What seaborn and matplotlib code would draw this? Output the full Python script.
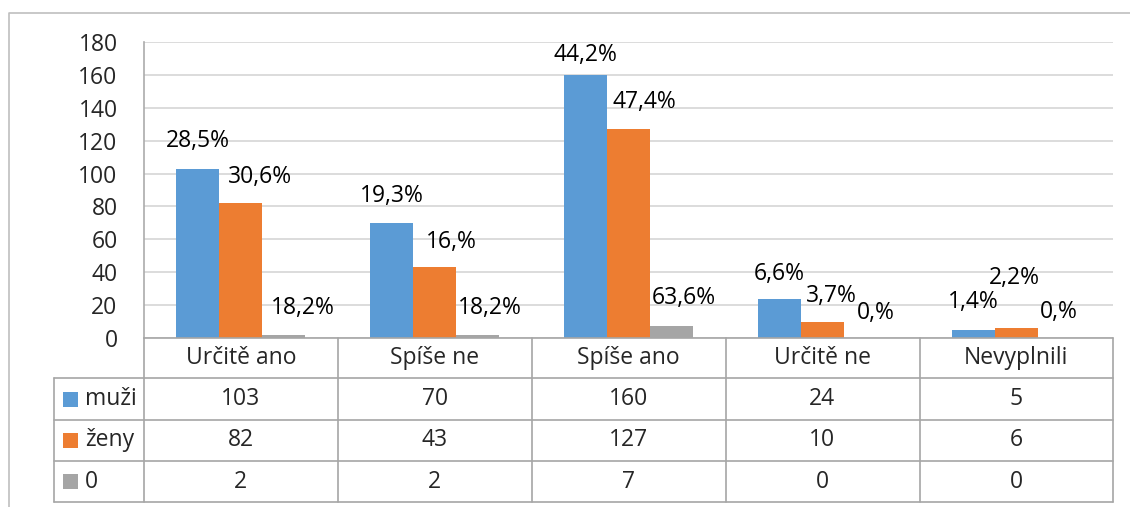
import pandas as pd
import matplotlib.pyplot as plt
import seaborn as sns
from matplotlib.lines import Line2D
from matplotlib.patches import Rectangle
from matplotlib.transforms import blended_transform_factory

# Data
kategorie = ['Určitě ano', 'Spíše ne', 'Spíše ano', 'Určitě ne', 'Nevyplnili']
skupiny = ['muži', 'ženy', '0']
muzi = [103, 70, 160, 24, 5]
zeny = [82, 43, 127, 10, 6]
nula = [2, 2, 7, 0, 0]
muzi_pct = ['28,5%', '19,3%', '44,2%', '6,6%', '1,4%']
zeny_pct = ['30,6%', '16,%', '47,4%', '3,7%', '2,2%']
nula_pct = ['18,2%', '18,2%', '63,6%', '0,%', '0,%']

barvy = ['#5B9BD5', '#ED7D31', '#A5A5A5']

# Label offsets (pixels right / up from the top of each bar)
posun = [
    [(0, 28), (0, 27), (0, 20), (0, 25), (0, 28)],
    [(19, 26), (17, 25), (16, 27), (9, 26), (-2, 50)],
    [(19, 27), (12, 27), (12, 28), (10, 25), (0, 26)],
]

rows = []
for skupina, hodnoty in zip(skupiny, [muzi, zeny, nula]):
    for kat, h in zip(kategorie, hodnoty):
        rows.append({'kategorie': kat, 'skupina': skupina, 'pocet': h})
df = pd.DataFrame(rows)

W, H = 1130, 507
sns.set_style('white')
plt.rcParams['font.family'] = ['Open Sans', 'DejaVu Sans']
fs = 16.5

fig = plt.figure(figsize=(W / 100, H / 100), dpi=100)
# plot area in pixels: x 144..1113, y 42..338
ax = fig.add_axes([144 / W, 1 - 338 / H, (1113 - 144) / W, (338 - 42) / H])

sns.barplot(data=df, x='kategorie', y='pocet', hue='skupina', order=kategorie,
            hue_order=skupiny, palette=barvy, width=0.666, gap=0,
            saturation=1, linewidth=0, ax=ax, legend=False, zorder=3)

ax.set_xlim(-0.5, 4.5)
ax.set_ylim(0, 180)
ax.set_yticks(range(0, 181, 20))
ax.yaxis.grid(True, color='#D9D9D9', linewidth=1.3, zorder=0)
ax.set_axisbelow(True)
ax.set_xticks([])
ax.set_xlabel('')
ax.set_ylabel('')
ax.tick_params(axis='y', length=0, pad=19, labelsize=fs)
for s in ['top', 'right', 'bottom']:
    ax.spines[s].set_visible(False)
ax.spines['left'].set_color('#ABABAB')
ax.spines['left'].set_linewidth(1.2)

# percentage labels
for i, (cont, pct) in enumerate(zip(ax.containers, [muzi_pct, zeny_pct, nula_pct])):
    for j, (bar, txt) in enumerate(zip(cont, pct)):
        dx, dy = posun[i][j]
        ax.annotate(txt, xy=(bar.get_x() + bar.get_width() / 2, bar.get_height()),
                    xytext=(dx * 0.72, dy * 0.72), textcoords='offset points',
                    ha='center', va='center', fontsize=fs, color='black')

# data table below the plot
def fy(y):
    return 1 - y / H

def fx(x):
    return x / W

lc = '#A6A6A6'
lw = 1.2
tr = fig.transFigure
radky = [338, 378, 420, 461, 502]

def cara(x0, x1, y0, y1):
    fig.add_artist(Line2D([fx(x0), fx(x1)], [fy(y0), fy(y1)], transform=tr,
                          color=lc, linewidth=lw))

cara(144, 1113, 338, 338)
for y in radky[1:]:
    cara(54, 1113, y, y)
cara(54, 54, 378, 502)
for x in [144, 338, 532, 726, 920, 1113]:
    cara(x, x, 338, 502)

bt = blended_transform_factory(ax.transData, tr)
for j, kat in enumerate(kategorie):
    fig.text(j, fy(358), kat, transform=bt, ha='center', va='center', fontsize=fs)

for r, (skupina, hodnoty, barva) in enumerate(zip(skupiny, [muzi, zeny, nula], barvy)):
    yc = (radky[r + 1] + radky[r + 2]) / 2
    fig.add_artist(Rectangle((fx(63), fy(yc + 7.5)), 15 / W, 15 / H,
                             transform=tr, facecolor=barva, edgecolor='none'))
    fig.text(fx(85), fy(yc), skupina, ha='left', va='center', fontsize=fs)
    for j, h in enumerate(hodnoty):
        fig.text(j, fy(yc), str(h), transform=bt, ha='center', va='center', fontsize=fs)

# outer chart border
fig.add_artist(Line2D([fx(9), fx(9), fx(1130)], [fy(520), fy(13), fy(13)],
                      transform=tr, color='#BFBFBF', linewidth=1.2))

fig.savefig('out.png', dpi=100)
